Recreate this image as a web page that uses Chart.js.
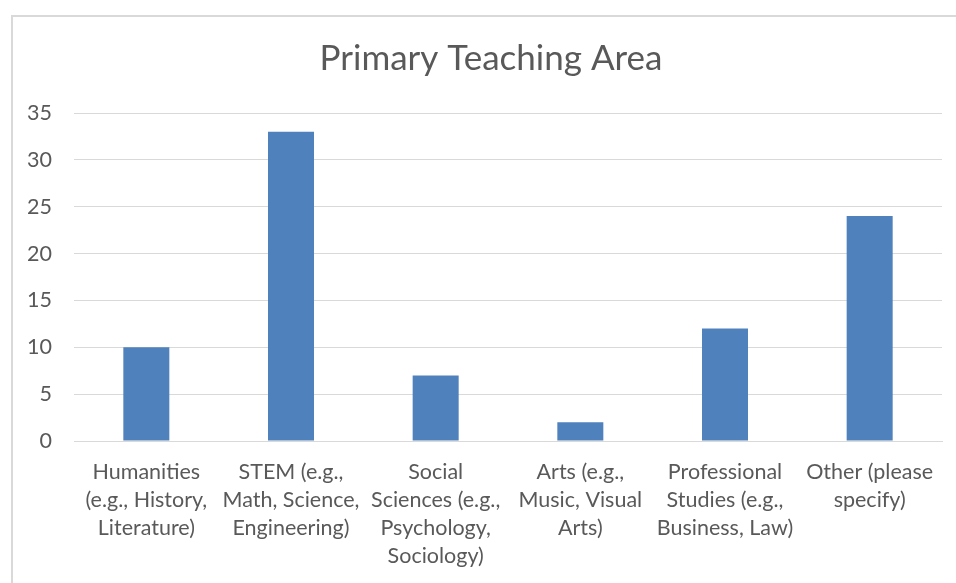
<!DOCTYPE html>
<html>
<head>
<meta charset="utf-8">
<script src="https://cdn.jsdelivr.net/npm/chart.js@4"></script>
<style>
  html, body { margin: 0; padding: 0; background: #ffffff; overflow: hidden; }
  #frame {
    position: absolute;
    left: 11px;
    top: 15px;
    width: 960px;
    height: 600px;
    border: 2px solid #d9d9d9;
    background: #ffffff;
  }
  #chart { position: absolute; left: 0; top: 0; }
</style>
</head>
<body>
<div id="frame">
  <canvas id="chart" width="943" height="566"></canvas>
</div>
<script>
// Chart data
const chartTitle = 'Primary Teaching Area';
const categories = [
    ['Humanities', '(e.g., History,', 'Literature)'],
    ['STEM (e.g.,', 'Math, Science,', 'Engineering)'],
    ['Social', 'Sciences (e.g.,', 'Psychology,', 'Sociology)'],
    ['Arts (e.g.,', 'Music, Visual', 'Arts)'],
    ['Professional', 'Studies (e.g.,', 'Business, Law)'],
    ['Other (please', 'specify)']
];
const counts = [10, 33, 7, 2, 12, 24];
const yTicks = [0, 5, 10, 15, 20, 25, 30, 35];

// Excel-like look
const TEXT_GREY = '#595959';
const GRID_GREY = '#d9d9d9';
const BAR_BLUE = '#4f81bd';
const FONT = "Lato, 'Open Sans', sans-serif";
Chart.defaults.font.family = FONT;
Chart.defaults.color = TEXT_GREY;

// Excel centres the title over the whole chart box, not the plot area,
// so draw it ourselves at that spot (space is reserved with layout padding)
const excelTitle = {
    id: 'excelTitle',
    afterDraw(chart) {
        const c = chart.ctx;
        c.save();
        c.font = '35px ' + FONT;
        c.fillStyle = TEXT_GREY;
        c.textAlign = 'center';
        c.textBaseline = 'alphabetic';
        c.fillText(chartTitle, 478, 53);
        c.restore();
    }
};

const ctx = document.getElementById('chart').getContext('2d');
const chart = new Chart(ctx, {
    type: 'bar',
    data: {
        labels: categories,
        datasets: [{
            label: chartTitle,
            data: counts,
            backgroundColor: BAR_BLUE,
            borderWidth: 0,
            barPercentage: 0.318,
            categoryPercentage: 1.0
        }]
    },
    options: {
        responsive: false,
        animation: false,
        layout: { padding: { left: 0, right: 14, top: 96, bottom: 0 } },
        plugins: {
            legend: { display: false },
            tooltip: { enabled: false },
            title: { display: false }
        },
        scales: {
            x: {
                grid: { display: false, drawTicks: false },
                border: { display: true, color: GRID_GREY, width: 1 },
                ticks: {
                    autoSkip: false,
                    maxRotation: 0,
                    minRotation: 0,
                    padding: 17,
                    color: TEXT_GREY,
                    font: { size: 21.5, lineHeight: 28 / 21.5 }
                },
                afterFit: (scale) => { scale.height = 142; }
            },
            y: {
                min: 0,
                max: 35,
                afterBuildTicks: (scale) => {
                    scale.ticks = yTicks.map(v => ({ value: v }));
                },
                grid: { color: GRID_GREY, lineWidth: 1, drawTicks: false },
                border: { display: false },
                ticks: {
                    padding: 22,
                    color: TEXT_GREY,
                    font: { size: 21.5 }
                },
                afterFit: (scale) => { scale.width = 61; }
            }
        }
    },
    plugins: [excelTitle]
});
</script>
</body>
</html>
